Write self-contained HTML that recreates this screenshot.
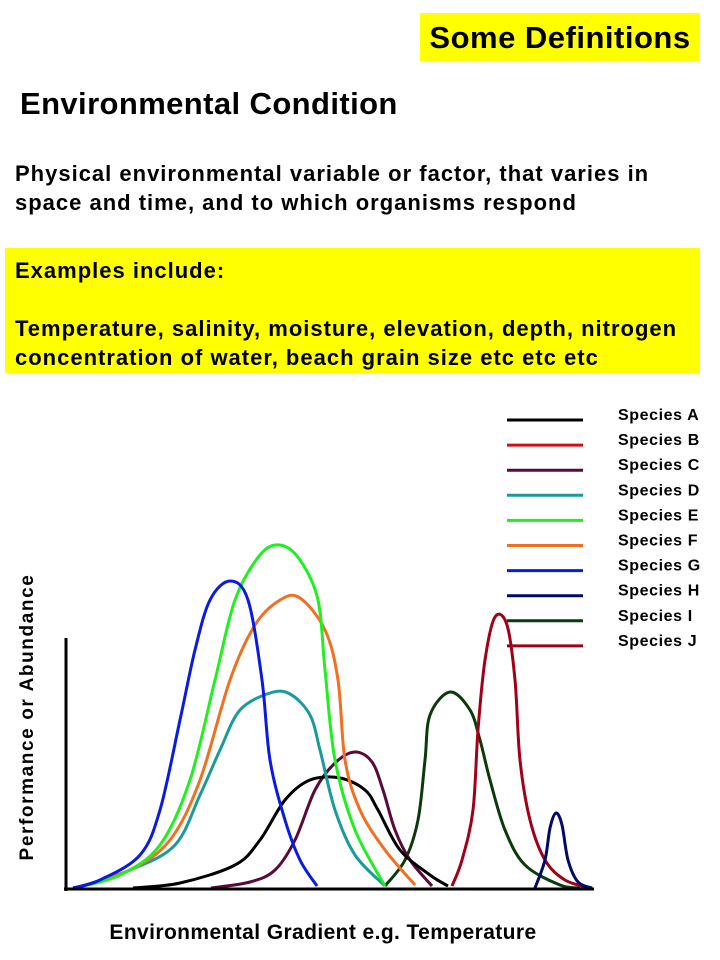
<!DOCTYPE html>
<html><head><meta charset="utf-8">
<style>
html,body{margin:0;padding:0;background:#fff;}
body{width:720px;height:960px;position:relative;overflow:hidden;font-family:"Liberation Sans",Arial,sans-serif;font-weight:bold;color:#000;}
.abs{position:absolute;}
</style></head>
<body>
<div class="abs" style="left:420px;top:13px;width:280px;height:48px;background:#ffff00;"></div>
<div class="abs" style="left:420px;top:13px;width:280px;height:48px;line-height:50px;text-align:center;font-size:31px;letter-spacing:0.5px;">Some Definitions</div>
<div class="abs" style="left:20px;top:86px;font-size:31px;letter-spacing:0.4px;">Environmental Condition</div>
<div class="abs" style="left:15px;top:159px;font-size:22px;line-height:29px;letter-spacing:1px;">Physical environmental variable or factor, that varies in<br>space and time, and to which organisms respond</div>
<div class="abs" style="left:5px;top:248px;width:695px;height:125px;background:#ffff00;"></div>
<div class="abs" style="left:15px;top:256px;font-size:22px;line-height:29px;letter-spacing:1px;">Examples include:<br><br>Temperature, salinity, moisture, elevation, depth, nitrogen<br>concentration of water, beach grain size etc etc etc</div>

<svg class="abs" style="left:0;top:0" width="720" height="960">
<g id="curves"></g>
<line x1="66" y1="638" x2="66" y2="891" stroke="#000" stroke-width="3"/>
<line x1="64" y1="889" x2="594" y2="889" stroke="#000" stroke-width="3"/>
<g id="legend"></g>
<text x="28" y="717" transform="rotate(-90 28 717)" text-anchor="middle" dominant-baseline="middle" font-size="19" font-weight="bold" font-family="Liberation Sans, sans-serif" letter-spacing="1.6">Performance or Abundance</text>
<text x="323" y="939" text-anchor="middle" font-size="21" font-weight="bold" font-family="Liberation Sans, sans-serif" letter-spacing="0.4">Environmental Gradient e.g. Temperature</text>
</svg>

<script>
// Curve data: x = position along gradient (px from origin), y = performance (px above baseline)
const names = ["Species A","Species B","Species C","Species D","Species E","Species F","Species G","Species H","Species I","Species J"];
const colors = ["#000000","#d01010","#5a0a3a","#1a9a9a","#22ee22","#f07020","#0a1ae0","#000a6a","#0a3a0a","#a00018"];
const seriesA = [[67,1],[114,6],[169,24],[194,49],[219,89],[244,109],[274,111],[299,99],[312,79],[334,39],[364,14],[382,3]];
const seriesC = [[145,1],[184,7],[209,19],[229,49],[249,99],[269,126],[289,137],[306,127],[317,99],[329,59],[344,29],[366,3]];
const seriesD = [[9,1],[64,19],[109,44],[134,94],[154,139],[174,179],[204,196],[224,195],[244,174],[254,139],[269,79],[289,34],[319,3]];
const seriesE = [[9,1],[54,14],[94,44],[124,109],[149,209],[169,289],[194,334],[214,344],[234,329],[252,289],[259,219],[269,129],[289,59],[319,3]];
const seriesF = [[9,1],[64,19],[104,49],[134,109],[164,209],[189,264],[214,289],[234,291],[259,259],[272,209],[279,129],[294,79],[319,39],[349,4]];
const seriesG = [[7,1],[34,9],[74,34],[94,79],[114,169],[129,239],[144,289],[164,308],[182,289],[196,209],[204,129],[219,69],[234,29],[251,3]];
const seriesH = [[469,1],[479,29],[484,61],[490,76],[496,64],[502,29],[512,7],[526,1]];
const seriesI = [[319,3],[339,29],[352,69],[359,129],[364,174],[384,197],[404,179],[414,149],[424,109],[439,59],[459,24],[494,4],[514,1]];
const seriesJ = [[386,3],[396,29],[407,79],[412,159],[419,229],[429,272],[441,264],[449,209],[454,129],[464,69],[479,29],[499,9],[524,1]];
const series = [seriesA, null, seriesC, seriesD, seriesE, seriesF, seriesG, seriesH, seriesI, seriesJ];
const drawOrder = [8,9,7,2,0,3,5,4,6];

const X0 = 66, Y0 = 889;
function xScale(v){ return X0 + v; }
function yScale(v){ return Y0 - v; }
const NS = "http://www.w3.org/2000/svg";

function pathFor(pts){
  const p = pts.map(d => [xScale(d[0]), yScale(d[1])]);
  let s = "M" + p[0][0] + "," + p[0][1];
  for (let i = 0; i < p.length - 1; i++) {
    const p0 = p[i-1] || p[i], p1 = p[i], p2 = p[i+1], p3 = p[i+2] || p[i+1];
    const c1x = p1[0] + (p2[0]-p0[0])/6, c1y = p1[1] + (p2[1]-p0[1])/6;
    const c2x = p2[0] - (p3[0]-p1[0])/6, c2y = p2[1] - (p3[1]-p1[1])/6;
    s += " C" + c1x + "," + c1y + " " + c2x + "," + c2y + " " + p2[0] + "," + p2[1];
  }
  return s;
}

const cg = document.getElementById("curves");
drawOrder.forEach(i => {
  const el = document.createElementNS(NS, "path");
  el.setAttribute("d", pathFor(series[i]));
  el.setAttribute("fill", "none");
  el.setAttribute("stroke", colors[i]);
  el.setAttribute("stroke-width", "3");
  
  
  cg.appendChild(el);
});

const lg = document.getElementById("legend");
names.forEach((n, i) => {
  const y = 420 + i * 25.1;
  const ln = document.createElementNS(NS, "line");
  ln.setAttribute("x1", 507); ln.setAttribute("x2", 583);
  ln.setAttribute("y1", y); ln.setAttribute("y2", y);
  ln.setAttribute("stroke", colors[i]); ln.setAttribute("stroke-width", "3");
  
  
  lg.appendChild(ln);
  const t = document.createElementNS(NS, "text");
  t.setAttribute("x", 618); t.setAttribute("y", y);
  t.setAttribute("font-size", "16"); t.setAttribute("font-weight", "bold");
  t.setAttribute("letter-spacing", "0.6");
  t.setAttribute("font-family", "Liberation Sans, sans-serif");
  t.textContent = n;
  
  
  lg.appendChild(t);
});
</script>
</body></html>
